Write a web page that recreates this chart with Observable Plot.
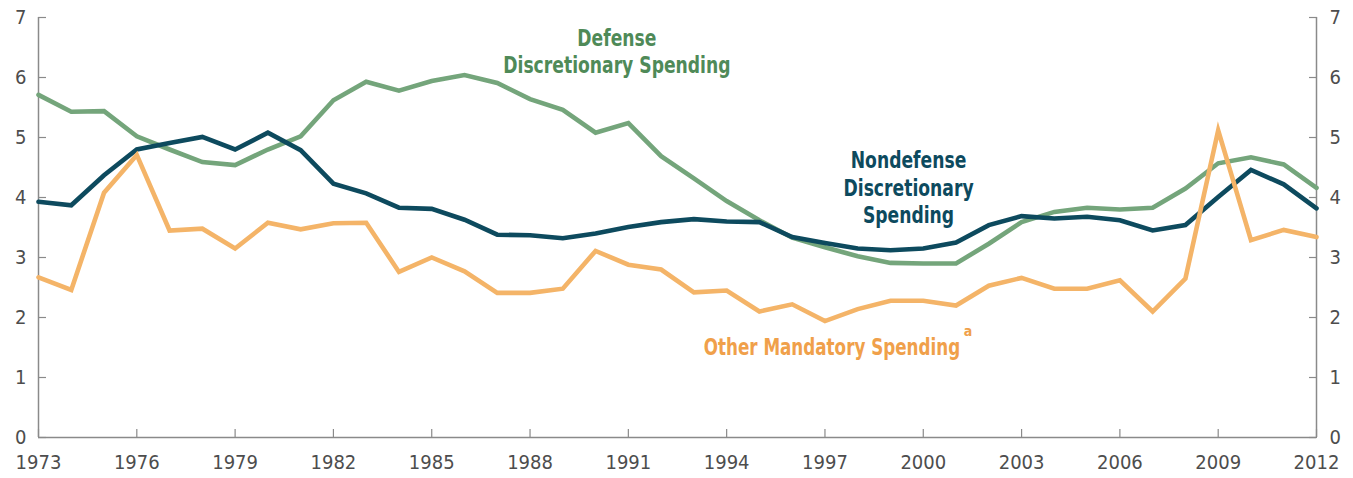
<!DOCTYPE html>
<html>
<head>
<meta charset="utf-8">
<script src="https://cdn.jsdelivr.net/npm/d3@7"></script>
<script src="https://cdn.jsdelivr.net/npm/@observablehq/plot@0.6"></script>
<style>
  html, body { margin: 0; padding: 0; background: #fff; }
  #chart svg { display: block; }
</style>
</head>
<body>
<div id="chart"></div>
<script>
const years = d3.range(1973, 2013);
const defense = [5.71,5.43,5.44,5.02,4.80,4.59,4.54,4.80,5.02,5.62,5.93,5.78,5.94,6.04,5.91,5.64,5.46,5.08,5.24,4.69,4.32,3.94,3.62,3.33,3.17,3.02,2.91,2.90,2.90,3.23,3.59,3.76,3.83,3.80,3.83,4.15,4.57,4.67,4.55,4.16];
const nondefense = [3.93,3.87,4.37,4.80,4.91,5.01,4.80,5.08,4.79,4.23,4.07,3.83,3.81,3.63,3.38,3.37,3.32,3.40,3.51,3.59,3.64,3.60,3.59,3.34,3.24,3.15,3.12,3.15,3.25,3.54,3.69,3.65,3.68,3.62,3.45,3.54,4.01,4.46,4.22,3.82];
const otherMandatory = [2.67,2.46,4.08,4.71,3.45,3.48,3.15,3.58,3.47,3.57,3.58,2.76,3.00,2.77,2.41,2.41,2.48,3.11,2.88,2.80,2.42,2.45,2.10,2.22,1.94,2.14,2.28,2.28,2.20,2.53,2.66,2.48,2.48,2.62,2.10,2.65,5.12,3.29,3.46,3.34];
const xTicks = d3.range(1973, 2013, 3);
const yTicks = [0,1,2,3,4,5,6,7];
const seriesNames = ["Defense Discretionary Spending", "Nondefense Discretionary Spending", "Other Mandatory Spending"];
const labels = [
  {text: "Defense", x: 1990.65, y: 6.65, series: 0},
  {text: "Discretionary Spending", x: 1990.65, y: 6.20, series: 0},
  {text: "Nondefense", x: 1999.55, y: 4.62, series: 1},
  {text: "Discretionary", x: 1999.55, y: 4.15, series: 1},
  {text: "Spending", x: 1999.55, y: 3.69, series: 1}
];
const otherLabel = {text: "Other Mandatory Spending", x: 1993.3, y: 1.50, sup: "a"};

const lineColors = ["#74a57b", "#0d4a5e", "#f4b468"];
const labelColors = ["#4f8a58", "#0d4a5e", "#f0a04a"];

const rows = (vals, s) => years.map((yr, i) => ({year: yr, value: vals[i], series: s}));

const axisColor = "#8a8a8a";
const tickFont = "'DejaVu Sans Condensed', 'Liberation Sans Narrow', sans-serif";

const chart = Plot.plot({
  width: 1353,
  height: 478,
  marginLeft: 38,
  marginRight: 37,
  marginTop: 17,
  marginBottom: 41,
  style: {fontFamily: tickFont, background: "#fff", overflow: "visible"},
  x: {domain: [1973, 2012]},
  y: {domain: [0, 7]},
  marks: [
    Plot.ruleX([1973, 2012], {stroke: axisColor, strokeWidth: 1.5}),
    Plot.ruleY([0], {stroke: axisColor, strokeWidth: 1.5}),
    Plot.axisY({anchor: "left", ticks: yTicks, tickSize: -8, stroke: axisColor, strokeWidth: 1.2, text: null}),
    Plot.axisY({anchor: "right", ticks: yTicks, tickSize: -8, stroke: axisColor, strokeWidth: 1.2, text: null}),
    Plot.axisX({anchor: "bottom", ticks: xTicks, tickSize: -8, stroke: axisColor, strokeWidth: 1.2, text: null}),
    Plot.axisY({anchor: "left", ticks: yTicks, tickSize: 0, tickPadding: 12, tickFormat: d => String(d), fontSize: 20, fill: "#4d4d4d", label: null}),
    Plot.axisY({anchor: "right", ticks: yTicks, tickSize: 0, tickPadding: 13, tickFormat: d => String(d), fontSize: 20, fill: "#4d4d4d", label: null}),
    Plot.axisX({anchor: "bottom", ticks: xTicks, tickSize: 0, tickPadding: 17, tickFormat: d => String(d), fontSize: 20, fill: "#4d4d4d", label: null}),
    Plot.line(rows(defense, 0), {x: "year", y: "value", stroke: lineColors[0], strokeWidth: 4.6, strokeLinejoin: "miter", strokeMiterlimit: 10}),
    Plot.line(rows(nondefense, 1), {x: "year", y: "value", stroke: lineColors[1], strokeWidth: 4.6, strokeLinejoin: "miter", strokeMiterlimit: 10}),
    Plot.line(rows(otherMandatory, 2), {x: "year", y: "value", stroke: lineColors[2], strokeWidth: 4.6, strokeLinejoin: "miter", strokeMiterlimit: 10}),
    Plot.text(labels, {x: "x", y: "y", text: "text", fill: d => labelColors[d.series], fontSize: 23, fontWeight: "bold", textAnchor: "middle"}),
    Plot.text([otherLabel], {x: "x", y: "y", text: "text", fill: labelColors[2], fontSize: 23, fontWeight: "bold", textAnchor: "start"}),
    Plot.text([otherLabel], {x: "x", y: "y", text: "sup", fill: labelColors[2], fontSize: 14, fontWeight: "bold", textAnchor: "start", dx: 260, dy: -16})
  ]
});
document.getElementById("chart").appendChild(chart);
// condense the bold series labels horizontally (no condensed bold font available offline)
const labelTexts = new Set([...labels.map(d => d.text), otherLabel.text]);
d3.select(chart).selectAll("text").each(function() {
  if (!labelTexts.has(this.textContent)) return;
  const w = this.getComputedTextLength();
  if (w > 0) {
    const k = this.textContent === otherLabel.text ? 0.81 : 0.83;
    this.setAttribute("textLength", (w * k).toFixed(1));
    this.setAttribute("lengthAdjust", "spacingAndGlyphs");
  }
});
</script>
</body>
</html>
